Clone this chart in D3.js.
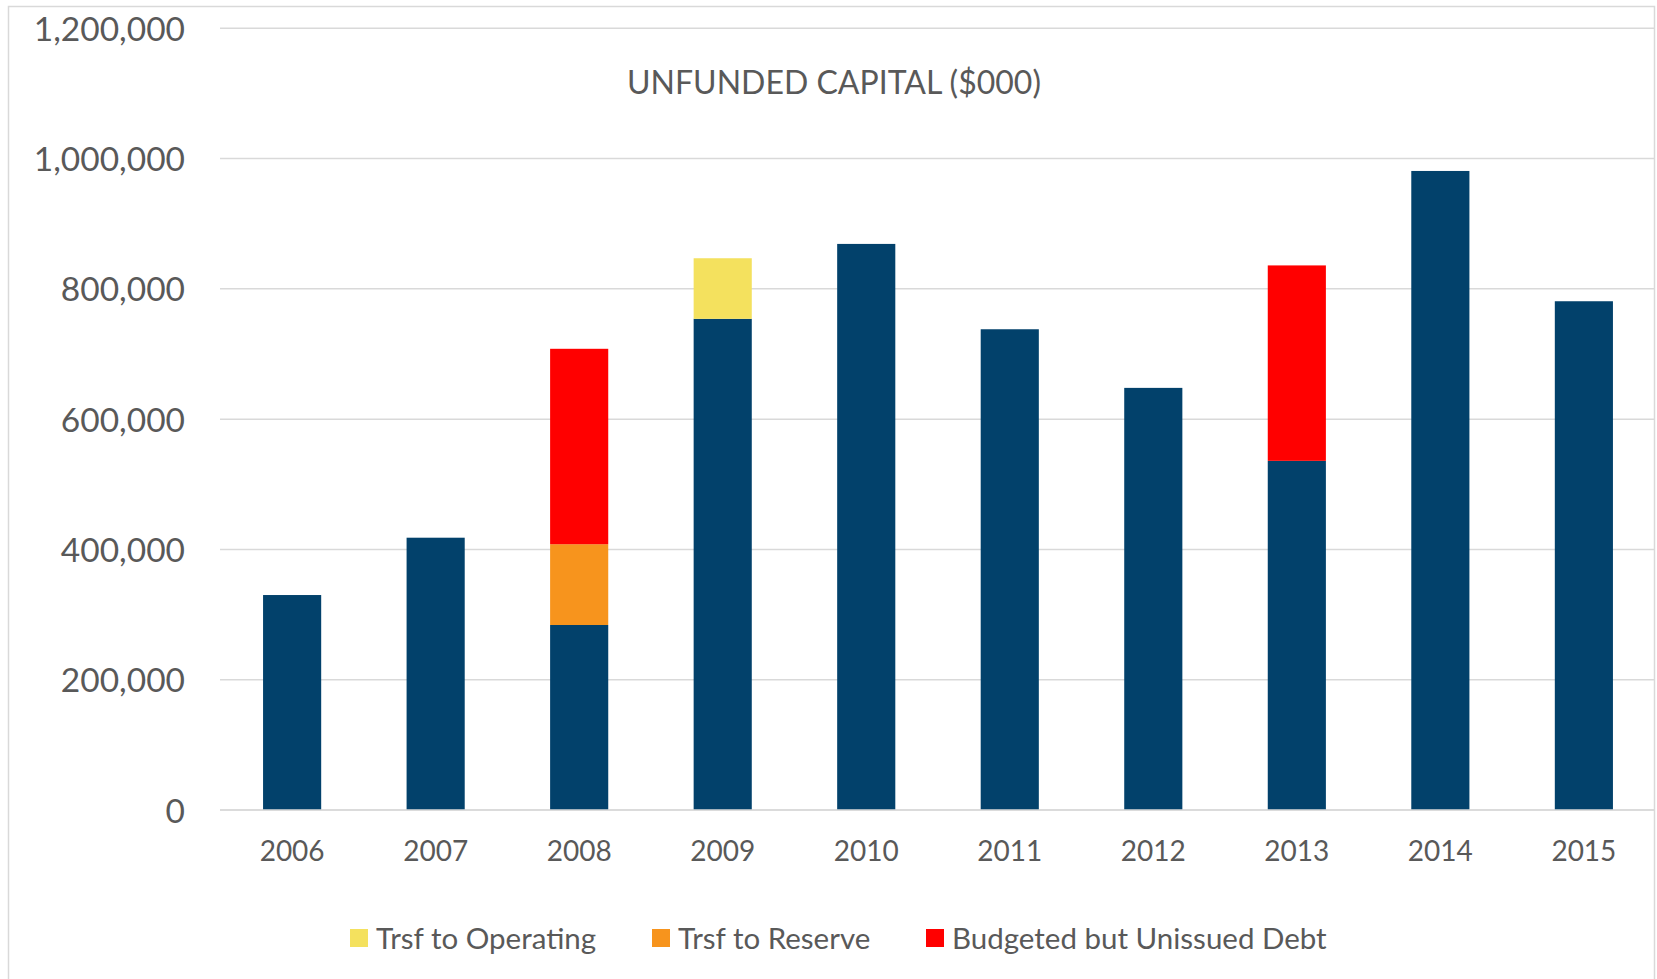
<!DOCTYPE html>
<html>
<head>
<meta charset="utf-8">
<script src="https://cdn.jsdelivr.net/npm/d3@7"></script>
<style>
  html, body { margin: 0; padding: 0; background: #ffffff; }
  svg { display: block; }
  text { font-family: Lato, "Open Sans", sans-serif; fill: #595959; }
</style>
</head>
<body>
<svg id="chart" width="1657" height="979"></svg>
<script>
// Unfunded capital by year, in $000
const years = ["2006", "2007", "2008", "2009", "2010", "2011", "2012", "2013", "2014", "2015"];
const baseCapital    = [330000, 418000, 284000, 754000, 869000, 738000, 648000, 536000, 981000, 781000];
const trsfOperating  = [0, 0, 0, 93000, 0, 0, 0, 0, 0, 0];
const trsfReserve    = [0, 0, 124000, 0, 0, 0, 0, 0, 0, 0];
const unissuedDebt   = [0, 0, 300000, 0, 0, 0, 0, 300000, 0, 0];
const yTicks = [0, 200000, 400000, 600000, 800000, 1000000, 1200000];

const seriesKeys = ["base", "operating", "reserve", "debt"];
const seriesColors = { base: "#02416B", operating: "#F4E15E", reserve: "#F7941D", debt: "#FF0000" };
const legendItems = [
  { key: "operating", label: "Trsf to Operating" },
  { key: "reserve",   label: "Trsf to Reserve" },
  { key: "debt",      label: "Budgeted but Unissued Debt" }
];

const rows = years.map((y, i) => ({
  year: y,
  base: baseCapital[i],
  operating: trsfOperating[i],
  reserve: trsfReserve[i],
  debt: unissuedDebt[i]
}));

const svg = d3.select("#chart");

// chart frame
svg.append("rect")
  .attr("x", 8.5).attr("y", 6.5)
  .attr("width", 1646).attr("height", 990)
  .attr("fill", "none").attr("stroke", "#d9d9d9").attr("stroke-width", 1.5);

const plot = { left: 220, right: 1656, top: 28.3, bottom: 810 };

const x = d3.scaleBand()
  .domain(years)
  .range([plot.left, plot.right])
  .paddingInner(0.595)
  .paddingOuter(0.3);

const y = d3.scaleLinear()
  .domain([0, 1200000])
  .range([plot.bottom, plot.top]);

// gridlines
svg.append("g")
  .selectAll("line")
  .data(yTicks)
  .join("line")
  .attr("x1", plot.left).attr("x2", 1655)
  .attr("y1", d => y(d)).attr("y2", d => y(d))
  .attr("stroke", "#d9d9d9").attr("stroke-width", 1.5);

// y axis labels
const yAxis = d3.axisLeft(y)
  .tickValues(yTicks)
  .tickFormat(d3.format(","))
  .tickSize(0)
  .tickPadding(0);
const yG = svg.append("g")
  .attr("transform", `translate(185,0)`)
  .call(yAxis);
yG.select(".domain").remove();
yG.selectAll("text")
  .attr("font-size", 33.5)
  .attr("dy", "0.36em")
  .style("font-family", "Lato, 'Open Sans', sans-serif")
  .attr("fill", "#595959");

// stacked bars
const stack = d3.stack().keys(seriesKeys);
const layers = stack(rows);

svg.append("g")
  .selectAll("g")
  .data(layers)
  .join("g")
  .attr("fill", d => seriesColors[d.key])
  .selectAll("rect")
  .data(d => d.filter(s => s[1] - s[0] > 0))
  .join("rect")
  .attr("x", d => x(d.data.year))
  .attr("width", x.bandwidth())
  .attr("y", d => y(d[1]))
  .attr("height", d => y(d[0]) - y(d[1]));

// baseline
svg.append("line")
  .attr("x1", plot.left).attr("x2", 1655)
  .attr("y1", y(0)).attr("y2", y(0))
  .attr("stroke", "#d9d9d9").attr("stroke-width", 1.5);

// x axis labels
const xAxis = d3.axisBottom(x).tickSize(0).tickPadding(0);
const xG = svg.append("g")
  .attr("transform", `translate(0,${y(0)})`)
  .call(xAxis);
xG.select(".domain").remove();
xG.selectAll("text")
  .attr("font-size", 28)
  .attr("y", 41)
  .attr("dy", "0.36em")
  .style("font-family", "Lato, 'Open Sans', sans-serif")
  .attr("fill", "#595959");

// title
svg.append("text")
  .attr("x", 834).attr("y", 82)
  .attr("dy", "0.36em")
  .attr("text-anchor", "middle")
  .attr("font-size", 32)
  .text("UNFUNDED CAPITAL ($000)");

// legend
const legendX = [350, 652, 926];
const legend = svg.append("g")
  .selectAll("g")
  .data(legendItems)
  .join("g")
  .attr("transform", (d, i) => `translate(${legendX[i]},938)`);
legend.append("rect")
  .attr("x", 0).attr("y", -9)
  .attr("width", 18).attr("height", 18)
  .attr("fill", d => seriesColors[d.key]);
legend.append("text")
  .attr("x", 26).attr("y", 0)
  .attr("dy", "0.36em")
  .attr("font-size", 29.5)
  .text(d => d.label);
</script>
</body>
</html>
